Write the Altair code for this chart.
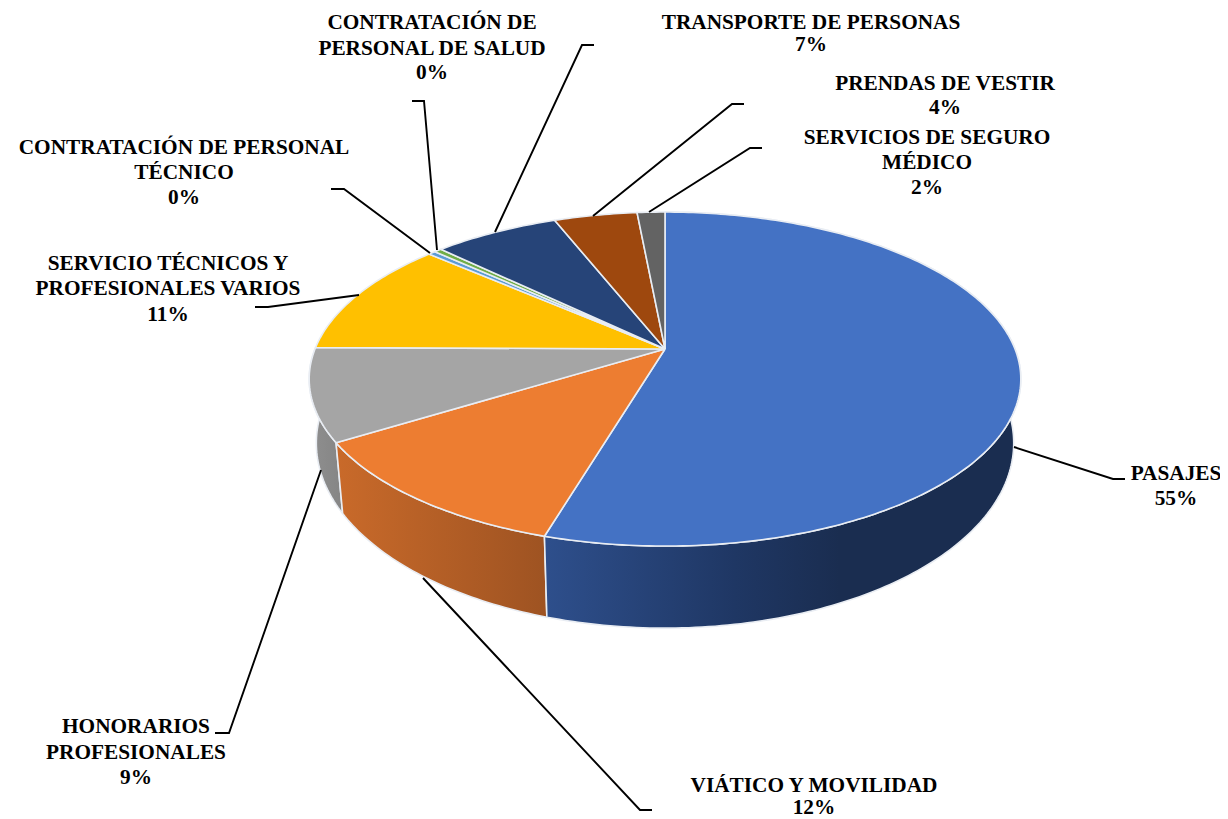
import math
import altair as alt
import pandas as pd

# Chart values (percent of the pie), clockwise from the top
shares = [54.6, 11.6, 8.95, 11.25, 0.4, 0.4, 6.8, 4.5, 1.5]
colors = ["#4472c4", "#ed7d31", "#a5a5a5", "#ffc000", "#5b9bd5", "#70ad47", "#264478", "#9e480e", "#636363"]
wall_stops = {
    0: [("#2e4f8c", 0.0), ("#1f3764", 0.4), ("#1a2d50", 0.62), ("#1a2d50", 1.0)],
    1: [("#c96a2a", 0.0), ("#9e5322", 1.0)],
    2: [("#8f8f8f", 0.0), ("#858585", 1.0)],
}

# Label text, line by line
label_lines = [
    ["PASAJES", "55%"],
    ["VIÁTICO Y MOVILIDAD", "12%"],
    ["HONORARIOS", "PROFESIONALES", "9%"],
    ["SERVICIO TÉCNICOS Y", "PROFESIONALES VARIOS", "11%"],
    ["CONTRATACIÓN DE PERSONAL", "TÉCNICO", "0%"],
    ["CONTRATACIÓN DE", "PERSONAL DE SALUD", "0%"],
    ["TRANSPORTE DE PERSONAS", "7%"],
    ["PRENDAS DE VESTIR", "4%"],
    ["SERVICIOS DE SEGURO", "MÉDICO", "2%"],
]
label_x = [1176, 814, 136, 168, 184, 432, 811, 945, 927]
label_y = [
    [474, 499], [786, 808], [727, 753, 778], [264, 289, 315], [148, 173, 198],
    [23, 49, 73], [23, 45], [84, 108], [138, 163, 188],
]
leaders = [
    [(1014, 447), (1113, 479), (1125, 479)],
    [(423, 578), (640, 810), (652, 810)],
    [(321, 470), (229, 733), (215, 733)],
    [(359, 295), (268, 307), (255, 307)],
    [(430, 253), (344, 189), (331, 189)],
    [(437, 250), (424, 101), (412, 101)],
    [(495, 232), (582, 45), (594, 45)],
    [(593, 216), (732, 104), (744, 104)],
    [(649, 212), (750, 148), (762, 148)],
]

# Perspective view of the pie's top disc and of its lower rim
APEX_X, APEX_Y = 665, 349
K, A, C = 0.18, 161.6, 350


def rim(frac):
    t = 2 * math.pi * frac
    u, v = math.sin(t), math.cos(t)
    w = 1 + K * v
    return APEX_X + C * u / w, APEX_Y - A * v / w


def lower(px, py):
    return 666 + (px - 666) * 0.98, 443 + (py - 379) * 1.108


def arc(f0, f1):
    n = max(3, int((f1 - f0) * 400))
    return [rim(f0 + (f1 - f0) * i / n) for i in range(n + 1)]


X = alt.X("x:Q", scale=alt.Scale(domain=[8, 1220], nice=False, zero=False), axis=None)
Y = alt.Y("y:Q", scale=alt.Scale(domain=[819, 8], nice=False, zero=False), axis=None)
ORDER = alt.Order("i:Q")


def polygon(points, fill, stroke="#e9edf3", width=1.6):
    pts = list(points) + [points[0]]
    df = pd.DataFrame({"x": [p[0] for p in pts], "y": [p[1] for p in pts], "i": range(len(pts))})
    return alt.Chart(df).mark_line(fill=fill, stroke=stroke, strokeWidth=width, strokeJoin="round").encode(x=X, y=Y, order=ORDER)


total = sum(shares)
bounds = [0.0]
for s in shares:
    bounds.append(bounds[-1] + s / total)

layers = []
for idx in [2, 1, 0]:
    top = arc(bounds[idx], bounds[idx + 1])
    bottom = [lower(*p) for p in top][::-1]
    grad = alt.Gradient(
        gradient="linear",
        x1=0, x2=1, y1=0, y2=0,
        stops=[alt.GradientStop(color=c, offset=o) for c, o in wall_stops[idx]],
    )
    layers.append(polygon(top + bottom, grad))

for idx, col in enumerate(colors):
    pts = [(APEX_X, APEX_Y)] + arc(bounds[idx], bounds[idx + 1])
    layers.append(polygon(pts, col))

rows = []
for k, line in enumerate(leaders):
    for i, (px, py) in enumerate(line):
        rows.append({"x": px, "y": py, "i": i, "g": k})
layers.append(
    alt.Chart(pd.DataFrame(rows)).mark_line(color="black", strokeWidth=1.9).encode(x=X, y=Y, order=ORDER, detail="g:N")
)

text_rows = []
for lines, lx, ys in zip(label_lines, label_x, label_y):
    for t, ly in zip(lines, ys):
        text_rows.append({"x": lx, "y": ly, "t": t})
layers.append(
    alt.Chart(pd.DataFrame(text_rows))
    .mark_text(font="Liberation Serif", fontWeight="bold", fontSize=21.3, color="black", align="center", baseline="middle")
    .encode(x=X, y=Y, text="t:N")
)

chart = (
    alt.layer(*layers)
    .properties(width=1212, height=811, padding=0, autosize=alt.AutoSizeParams(type="none"), background="white")
    .configure_view(stroke=None)
)
chart.save("out.html", embed_options={"renderer": "svg", "actions": False})
